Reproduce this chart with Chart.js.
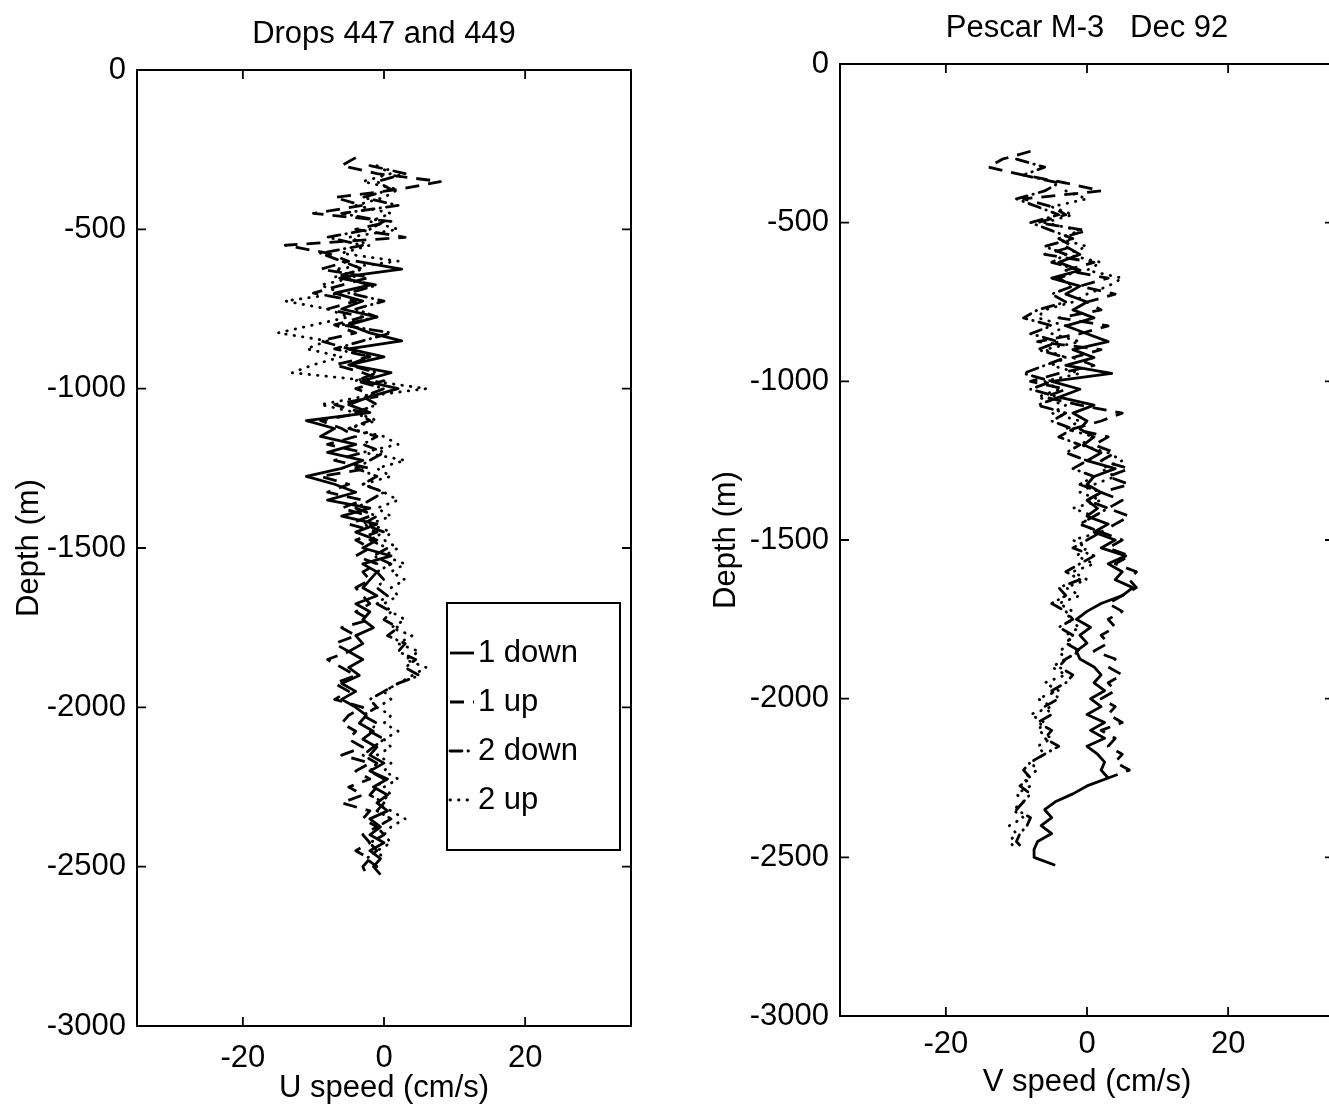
<!DOCTYPE html>
<html>
<head>
<meta charset="utf-8">
<script src="https://cdn.jsdelivr.net/npm/chart.js@4.4.0/dist/chart.umd.min.js"></script>
<style>
html, body { margin: 0; padding: 0; background: #fff; overflow: hidden; width: 1329px; height: 1107px; }
#left { position: absolute; left: 0; top: 0; }
#right { position: absolute; left: 700px; top: 0; }
</style>
</head>
<body>
<canvas id="left" width="665" height="1107"></canvas>
<canvas id="right" width="700" height="1107"></canvas>
<script>
// depth grid shared by both profiles (m)
var depths = [
  -250,-275,-300,-325,-350,-375,-400,-425,-450,-475,
  -500,-525,-550,-575,-600,-625,-650,-675,-700,-725,
  -750,-775,-800,-825,-850,-875,-900,-925,-950,-975,
  -1000,-1025,-1050,-1075,-1100,-1125,-1150,-1175,-1200,-1225,
  -1250,-1275,-1300,-1325,-1350,-1375,-1400,-1425,-1450,-1475,
  -1500,-1525,-1550,-1575,-1600,-1625,-1650,-1675,-1700,-1725,
  -1750,-1775,-1800,-1825,-1850,-1875,-1900,-1925,-1950,-1975,
  -2000,-2025,-2050,-2075,-2100,-2125,-2150,-2175,-2200,-2225,
  -2250,-2275,-2300,-2325,-2350,-2375,-2400,-2425,-2450,-2475,
  -2500,-2525,-2550
];

var seriesLabels = ['1 down', '1 up', '2 down', '2 up'];

// U speed (cm/s), drops 447 and 449
var u1Down = [
  null,null,null,null,null,null,null,null,null,null,
  null,null,null,null,-4,2.5,-6,-2,-7,-3,
  -6,-1,-5,-2,2.5,-5,0,-5,1,-3,
  2,-2,-5,-2,-11,-7,-9,-4,-8,-3,
  -6,-11,-7,-4,-8,-2,-6,-1,-4,-1,
  -3,1,-3,-1,-2,-3,-1,-4,-2,-3,
  -1.5,-4,-3,-5,-3,-5,-3.5,-6,-4,-6,
  -4,-2.5,-3.5,-1.5,-3,-1,-2,0,-2,0.5,
  -1.5,0.5,-1,0.5,-2,-0.5,-2,0,-2,-0.5,
  -1.5,-0.5,null
];
var u1Up = [
  null,-4,-6,-1,8,2,-7,-3,-10,1,
  -4,3,-14,-8,-5,-9,-2,-6,-10,-4,
  -8,-3,-7,-4,-9,-5,-2,-7,-3,0,
  -4,-1,-7,-3,-9,-6,-4,-8,-3,-7,
  -2,-9,-5,-8,-3,-6,-2,-5,-1,-4,
  -2,-4,-1,-3,-2,-4,-3,-2,-4,-2,
  -6,-4,-7,-5,-8,-6,-4,-7,-5,-7,
  -3,-5,-6,-4,-5,-3,-6,-2,-4,-2,
  -5,-3,-6,-2,-3,-1,-3,-2,-4,-2,
  -3,-2.5,null
];
var u2Down = [
  null,null,-2,3,-1,1,-3,2,-6,0,
  -2,-8,-3,-9,-6,-3,-7,-1,-5,0,
  -4,-1,-6,1,-3,-7,-2,-5,-1,-4,
  0,-3,-1,-4,-2,-5,-1,-3,0,-2,
  -4,-1,-3,0,-2,-4,-1,-3,0,-2,
  0.5,-1.5,1,-1,0,-1,0.5,-1,1,0,
  2,0.5,3,2,4.5,3,5,2,0,-2,
  -1,-3,-1,-2,0,-1.5,-3,-1,-2,0,
  -1,-2,0,-1,1,-1,0,-2,-1,-2.5,
  -1,null,null
];
var u2Up = [
  null,null,-1,1,-3,2,0,-4,1,-2,
  2,-5,-2,-6,2,-7,-4,-9,-6,-14,
  -8,-5,-10,-15,-8,-11,-6,-10,-13,-2,
  6,-3,-9,-4,-1,-5,0,2,-3,3,
  -1,1,-3,0,2,-1,1,-2,1,0,
  2,0,3,1,3,1,2,0,1,3,
  1,4,2,5,3,6,4,2,0,1,
  -1,1,0,2,0,1,-1,1,0,2,
  0,1,-1,1,3,1,0,1,-1,0,
  null,null,null
];

// V speed (cm/s), Pescar M-3 Dec 92
var v1Down = [
  null,null,null,null,null,null,null,null,null,null,
  null,null,null,-3,-1,-4,-1,-5,-1,-3,
  0,-2,1,-3,0,3,-2,1,-3,3.5,
  -5,-1,-4,1,-2,0,-1,1,-0.5,2,
  0,4,1,0,2,0,1.5,0,3,1,
  4,2,5.5,3,5,4,6.5,5,2,0,
  -1.5,0.5,-1,0,-1.5,-1,1,2,1,2.5,
  0.5,2,0,2.5,0.5,2.5,0,1.5,2.5,2,
  3,0,-2,-4.5,-6,-5,-6.5,-5,-7,-7.5,
  -7.5,-4.5,null
];
var v1Up = [
  null,-8,-12,-14,-9,-3,2,-9,-5,-3,
  -7,0,-4,-2,-6,1,-3,3,-1,4,
  0,2,-4,3,-1,-7,2,-2,1,-4,
  -8,-3,-6,-1,5,2,-2,3,1,4,
  2,6,3,6,2,5,3,6,4,2,
  5,3,6,4,7,6,7,5,3,5,
  3,4,2,3,1,4,3,5,3,4,
  2,4,3,5,2,4,3,5,4,6,
  3,null,null,null,null,null,null,null,null,null,
  null,null,null
];
var v2Down = [
  null,null,-10,-6,-9,-4,-6,-10,-7,-4,
  -8,-5,-2,-6,-3,-5,-1,-4,-2,-5,
  -3,-7,-9,-5,-8,-4,-7,-3,-6,-9,
  -5,-8,-4,-7,-3,-5,-2,-4,-1,-3,
  0,-2,1,-1,2,0,3,1,-1,2,
  0,-2,1,-1,-3,-1,-4,-3,-5,-3,
  -2,-4,-2,-3,-1,-3,-4,-2,-3,-5,
  -4,-6,-5,-7,-5,-6,-4,-6,-8,-9,
  -8,-9.5,-8,-9,-10,-8,-8.5,-9.5,-10,-9,
  null,null,null
];
var v2Up = [
  null,null,null,null,null,null,-3,0,-5,-2,
  -6,-1,-4,0,-3,2,0,5,3,0,
  -2,-6,-7,-3,-5,-1,-6,-3,-5,-1,
  -6,-4,-7,-3,-5,-1,-3,1,-1,3,
  5,2,4,1,-1,2,-2,1,-1,2,
  -2,0,-1.5,1,-2,0,-3,-1,-4,-2,
  -3,-1,-3,-2,-4,-3,-5,-3,-6,-4,
  -7,-5,-8,-6,-7,-5,-7,-6,-8,-7,
  -9,-8,-10,-9,-10.5,-9,-11,-10,-11,-10,
  null,null,null
];

var xTicks = [-20, 0, 20];
var yTicks = [0, -500, -1000, -1500, -2000, -2500, -3000];

var FONT = '"Liberation Sans", Arial, sans-serif';
Chart.defaults.font.family = FONT;
Chart.defaults.color = '#000';

var lineStyles = [
  { borderDash: [], borderCapStyle: 'butt' },
  { borderDash: [14, 9], borderCapStyle: 'butt' },
  { borderDash: [12, 6, 0.5, 6], borderCapStyle: 'round' },
  { borderDash: [0.5, 8], borderCapStyle: 'round' }
];

function makeDatasets(list) {
  return list.map(function (vals, k) {
    var pts = depths.map(function (d, i) { return { x: vals[i], y: d }; })
                    .filter(function (p) { return p.x !== null; });
    return {
      label: seriesLabels[k],
      data: pts,
      showLine: true,
      borderColor: '#000',
      borderWidth: 2.8,
      borderDash: lineStyles[k].borderDash,
      borderCapStyle: lineStyles[k].borderCapStyle,
      borderJoinStyle: 'round',
      pointRadius: 0,
      pointHoverRadius: 0,
      tension: 0
    };
  });
}

// box, inward ticks, title and boxed legend, MATLAB style
var framePlugin = {
  id: 'frame',
  afterDatasetsDraw: function (chart, args, opts) {
    var ctx = chart.ctx, a = chart.chartArea;
    var xs = chart.scales.x, ys = chart.scales.y;
    ctx.save();
    ctx.strokeStyle = '#000';
    ctx.lineWidth = 2;
    ctx.setLineDash([]);
    ctx.strokeRect(a.left, a.top, a.right - a.left, a.bottom - a.top);
    ctx.lineWidth = 1.8;
    ctx.beginPath();
    xs.ticks.forEach(function (t) {
      var px = xs.getPixelForValue(t.value);
      ctx.moveTo(px, a.bottom); ctx.lineTo(px, a.bottom - 9);
      ctx.moveTo(px, a.top); ctx.lineTo(px, a.top + 9);
    });
    ys.ticks.forEach(function (t) {
      var py = ys.getPixelForValue(t.value);
      ctx.moveTo(a.left, py); ctx.lineTo(a.left + 9, py);
      ctx.moveTo(a.right, py); ctx.lineTo(a.right - 9, py);
    });
    ctx.stroke();

    ctx.fillStyle = '#000';
    ctx.font = '31px ' + FONT;
    ctx.textAlign = 'center';
    ctx.textBaseline = 'middle';
    ctx.fillText(opts.title, (a.left + a.right) / 2, a.top - opts.titleGap);

    if (opts.legend) {
      var L = opts.legend;
      var bx = a.left + L.x, by = a.top + L.y;
      ctx.fillStyle = '#fff';
      ctx.fillRect(bx, by, L.w, L.h);
      ctx.lineWidth = 2;
      ctx.strokeRect(bx, by, L.w, L.h);
      chart.data.datasets.forEach(function (ds, k) {
        var ry = by + L.first + k * L.step;
        ctx.save();
        ctx.lineWidth = ds.borderWidth;
        ctx.lineCap = ds.borderCapStyle;
        ctx.setLineDash(ds.borderDash);
        ctx.beginPath();
        ctx.moveTo(bx + 3, ry);
        ctx.lineTo(bx + 27, ry);
        ctx.stroke();
        ctx.restore();
        ctx.fillStyle = '#000';
        ctx.textAlign = 'left';
        ctx.fillText(ds.label, bx + 31, ry);
      });
    }
    ctx.restore();
  }
};

function makeChart(id, sets, cfg) {
  return new Chart(document.getElementById(id), {
    type: 'scatter',
    data: { datasets: makeDatasets(sets) },
    options: {
      responsive: false,
      animation: false,
      devicePixelRatio: 1,
      layout: { padding: { top: cfg.top, right: cfg.right, bottom: 0, left: 0 } },
      plugins: {
        legend: { display: false },
        tooltip: { enabled: false },
        frame: { title: cfg.title, titleGap: cfg.titleGap, legend: cfg.legend }
      },
      scales: {
        x: {
          type: 'linear',
          min: -35,
          max: 35,
          afterBuildTicks: function (s) { s.ticks = xTicks.map(function (v) { return { value: v }; }); },
          afterFit: function (s) { s.height = cfg.xHeight; },
          grid: { display: false, drawTicks: false },
          border: { display: false },
          ticks: { font: { size: 31 }, padding: cfg.xPad, maxRotation: 0, callback: function (v) { return String(v); } },
          title: { display: true, text: cfg.xTitle, font: { size: 31 }, padding: { top: 0, bottom: cfg.xTitlePad } }
        },
        y: {
          type: 'linear',
          min: -3000,
          max: 0,
          afterBuildTicks: function (s) { s.ticks = yTicks.map(function (v) { return { value: v }; }); },
          afterFit: function (s) { s.width = cfg.yWidth; },
          grid: { display: false, drawTicks: false },
          border: { display: false },
          ticks: { font: { size: 31 }, padding: 11, callback: function (v) { return String(v); } },
          title: { display: true, text: 'Depth (m)', font: { size: 31 }, padding: { top: cfg.yTitlePad, bottom: 0 } }
        }
      }
    },
    plugins: [framePlugin]
  });
}

makeChart('left', [u1Down, u1Up, u2Down, u2Up], {
  title: 'Drops 447 and 449', titleGap: 36,
  top: 70, right: 34, xHeight: 81, yWidth: 137,
  xPad: 14, xTitle: 'U speed (cm/s)', xTitlePad: 0, yTitlePad: 11,
  legend: { x: 310, y: 533, w: 173, h: 247, first: 50, step: 49 }
});

makeChart('right', [v1Down, v1Up, v2Down, v2Up], {
  title: 'Pescar M-3   Dec 92', titleGap: 36,
  top: 64, right: 66, xHeight: 91, yWidth: 140,
  xPad: 10, xTitle: 'V speed (cm/s)', xTitlePad: 6, yTitlePad: 8,
  legend: null
});
</script>
</body>
</html>
